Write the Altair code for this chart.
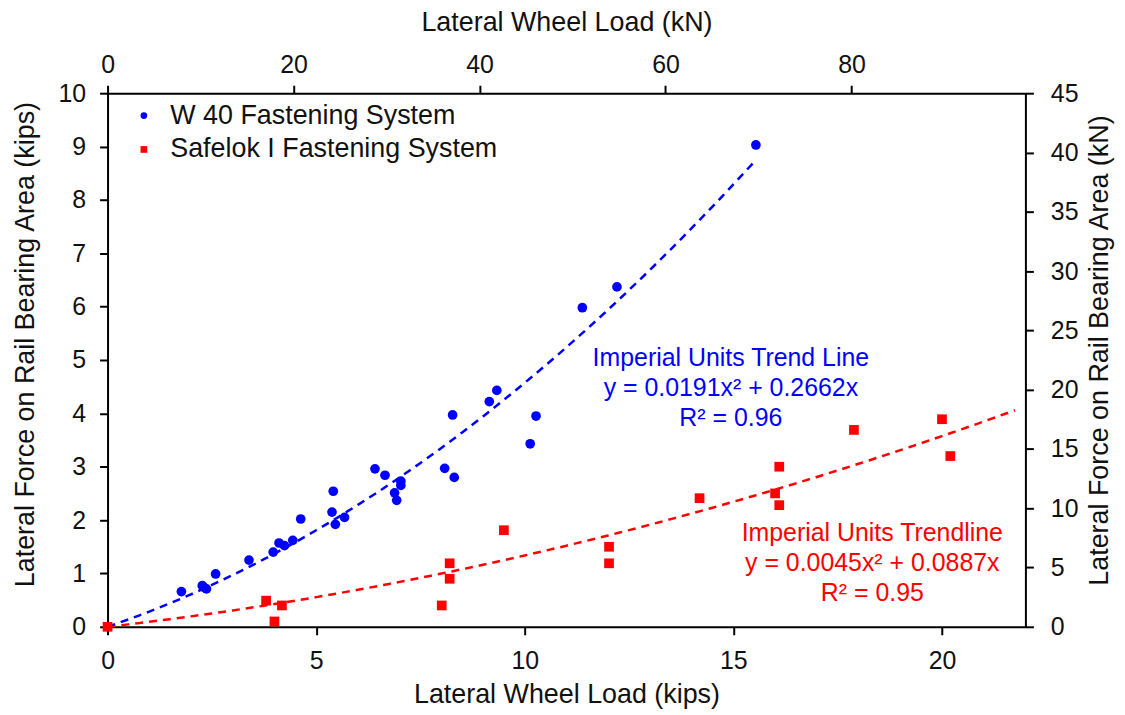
import altair as alt
import pandas as pd

# ---- data ----
series_names = ["W 40 Fastening System", "Safelok I Fastening System"]
series_colors = ["#0000FF", "#FF0000"]
series_shapes = ["circle", "square"]

w40_x = [1.77, 2.27, 2.31, 2.37, 2.59, 3.39, 3.97, 4.11, 4.24, 4.44, 4.63, 5.41, 5.38, 5.46,
         5.68, 6.41, 6.65, 6.88, 6.93, 7.03, 7.03, 8.08, 8.27, 8.31, 9.15, 9.33, 10.13, 10.27,
         11.38, 12.21, 15.54]
w40_y = [0.66, 0.77, 0.74, 0.71, 0.99, 1.25, 1.40, 1.57, 1.52, 1.62, 2.02, 2.54, 2.15, 1.92,
         2.05, 2.96, 2.84, 2.51, 2.37, 2.73, 2.65, 2.97, 3.97, 2.80, 4.22, 4.43, 3.43, 3.95,
         5.98, 6.37, 9.03]

safelok_x = [0.0, 3.80, 4.00, 4.18, 8.01, 8.20, 8.20, 9.50, 12.02, 12.02, 14.19, 16.00, 16.10,
             16.10, 17.89, 20.00, 20.20]
safelok_y = [0.0, 0.49, 0.10, 0.40, 0.40, 1.19, 0.90, 1.81, 1.50, 1.19, 2.41, 2.50, 3.00,
             2.28, 3.69, 3.89, 3.20]

# trend line coefficients (as printed on the chart) and extents
w40_coef = [0.0191, 0.2662]
safelok_coef = [0.0045, 0.0887]
w40_trend_end = 15.55
safelok_trend_end = 22.0

w40_label = ["Imperial Units Trend Line\ny = 0.0191x\u00b2  + 0.2662x\nR\u00b2 = 0.96"]
w40_label_pos = [14.94, 5.04]
safelok_label = ["Imperial Units Trendline\ny = 0.0045x\u00b2  + 0.0887x\nR\u00b2 = 0.95"]
safelok_label_pos = [18.33, 1.75]

kips_x_ticks = [0, 5, 10, 15, 20]
kips_y_ticks = list(range(0, 11))
kn_x_ticks = [0, 20, 40, 60, 80]
kn_y_ticks = list(range(0, 50, 5))

FONT = "Liberation Sans"

points = pd.DataFrame({
    "x": w40_x + safelok_x,
    "y": w40_y + safelok_y,
    "series": [series_names[0]] * len(w40_x) + [series_names[1]] * len(safelok_x),
})

xenc = alt.X("x:Q", scale=alt.Scale(domain=[0, 22], nice=False, zero=True),
             axis=alt.Axis(title="Lateral Wheel Load (kips)", values=kips_x_ticks, orient="bottom",
                           tickSize=8, labelPadding=14, titlePadding=8, labelFlush=False,
                           grid=False))
yenc = alt.Y("y:Q", scale=alt.Scale(domain=[0, 10], nice=False),
             axis=alt.Axis(title="Lateral Force on Rail Bearing Area (kips)", values=kips_y_ticks,
                           orient="left", tickSize=8, labelPadding=14, titlePadding=19,
                           titleY=252, labelFlush=False, grid=False))

legend_def = alt.Legend(title=None, orient="none", legendX=23, legendY=9, padding=0,
                        labelFontSize=27, labelFont=FONT, labelColor="#111", symbolSize=45,
                        labelOffset=13, rowPadding=6, labelLimit=600, symbolStrokeWidth=0)

pts = alt.Chart(points).mark_point(filled=True, size=95, opacity=1).encode(
    x=xenc, y=yenc,
    color=alt.Color("series:N", scale=alt.Scale(domain=series_names, range=series_colors),
                    legend=legend_def),
    shape=alt.Shape("series:N", scale=alt.Scale(domain=series_names, range=series_shapes),
                    legend=legend_def),
)

def trend(coef, end, color):
    a, b = coef
    return alt.Chart(alt.sequence(0, end, 0.25, as_="x")).transform_calculate(
        y=f"{a}*datum.x*datum.x + {b}*datum.x"
    ).mark_line(strokeDash=[8, 6], strokeWidth=2.5, color=color).encode(x=xenc, y=yenc)

blue_trend = trend(w40_coef, w40_trend_end, series_colors[0])
red_trend = trend(safelok_coef, safelok_trend_end, series_colors[1])

def label(txt, pos, color):
    df = pd.DataFrame({"x": [pos[0]], "y": [pos[1]], "t": txt})
    return alt.Chart(df).mark_text(align="center", baseline="middle", lineBreak="\n",
                                   lineHeight=30, fontSize=25, font=FONT, color=color).encode(
        x=xenc, y=yenc, text="t:N")

blue_lbl = label(w40_label, w40_label_pos, series_colors[0])
red_lbl = label(safelok_label, safelok_label_pos, series_colors[1])

main = alt.layer(red_trend, blue_trend, pts, blue_lbl, red_lbl)

dummy = alt.Chart(pd.DataFrame({"kn_x": [0.0], "kn_y": [0.0]})).mark_point(opacity=0).encode(
    x=alt.X("kn_x:Q", scale=alt.Scale(domain=[0, 98.7], nice=False),
            axis=alt.Axis(title="Lateral Wheel Load (kN)", values=kn_x_ticks, orient="top",
                          tickSize=8, labelPadding=8, titlePadding=16, labelFlush=False,
                          grid=False)),
    y=alt.Y("kn_y:Q", scale=alt.Scale(domain=[0, 45], nice=False),
            axis=alt.Axis(title="Lateral Force on Rail Bearing Area (kN)", values=kn_y_ticks,
                          orient="right", tickSize=8, labelPadding=17, titlePadding=9,
                          titleAngle=270, titleBaseline="top", titleY=258, labelFlush=False,
                          grid=False)),
)

chart = alt.layer(main, dummy).resolve_scale(x="independent", y="independent").properties(
    width=922, height=536,
    autosize=alt.AutoSizeParams(type="none"),
    padding={"left": 100, "top": 84, "right": 92, "bottom": 84},
    background="white",
).configure_view(stroke=None).configure_axis(
    domainColor="#000", domainWidth=2, tickColor="#000", tickWidth=2,
    labelFont=FONT, labelFontSize=25, labelColor="#111",
    titleFont=FONT, titleFontSize=27, titleFontWeight="normal", titleColor="#111",
)

chart.save("out.html", embed_options={"renderer": "svg", "actions": False})
